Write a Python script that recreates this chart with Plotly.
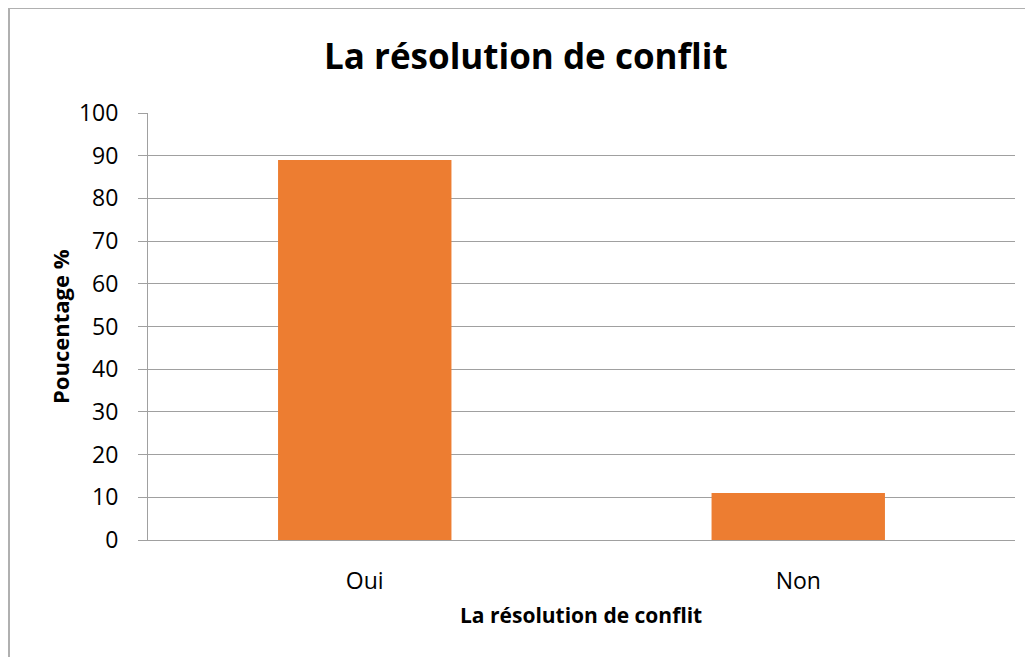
import plotly.graph_objects as go

# Données
categories = ["Oui", "Non"]
pourcentages = [89, 11]
y_ticks = [0, 10, 20, 30, 40, 50, 60, 70, 80, 90, 100]

# la page html a une marge de 8px : coordonnées de la figure = page - 8
W, H = 1025, 649
L, R, T, B = 140, 18, 105, 117
pw, ph = W - L - R, H - T - B

def px_x(x):
    return (x - 8 - L) / pw

def px_y(y):
    return (H - B - (y - 8)) / ph

fig = go.Figure()
fig.add_trace(go.Bar(x=categories, y=pourcentages, marker_color="#ED7D31",
                     marker_line_width=0, width=0.4))

font_family = "Open Sans, Liberation Sans, sans-serif"

fig.update_layout(
    width=W, height=H,
    margin=dict(l=L, r=R, t=T, b=B),
    plot_bgcolor="white", paper_bgcolor="white",
    showlegend=False,
    font=dict(family=font_family, color="black"),
    bargap=0.6,
)

fig.update_yaxes(range=[0, 100], tickvals=y_ticks, showgrid=True, gridcolor="#a0a0a0",
                 gridwidth=1, showline=True, linecolor="#a0a0a0", linewidth=1,
                 ticks="outside", ticklen=9, tickcolor="#a0a0a0", ticklabelstandoff=15,
                 tickfont=dict(size=23), zeroline=False, fixedrange=True)
fig.update_xaxes(showline=True, linecolor="#a0a0a0", linewidth=1, ticks="",
                 ticklabelstandoff=20, tickfont=dict(size=23), fixedrange=True)

# titre
fig.add_annotation(text="<b>La résolution de conflit</b>", xref="paper", yref="paper",
                   x=px_x(526), y=px_y(55), xanchor="center", yanchor="middle",
                   showarrow=False, font=dict(size=35, family=font_family))
# titres des axes
fig.add_annotation(text="<b>La résolution de conflit</b>", xref="paper", yref="paper",
                   x=px_x(581), y=px_y(615), xanchor="center", yanchor="middle",
                   showarrow=False, font=dict(size=21, family=font_family))
fig.add_annotation(text="<b>Poucentage %</b>", xref="paper", yref="paper",
                   x=px_x(60), y=px_y(327), xanchor="center", yanchor="middle",
                   showarrow=False, textangle=-90,
                   font=dict(size=22, family=font_family))

# bordure du graphique
fig.add_shape(type="line", xref="paper", yref="paper", x0=px_x(9), x1=px_x(9),
              y0=px_y(8), y1=px_y(680), line=dict(color="#b0b0b0", width=2))
fig.add_shape(type="line", xref="paper", yref="paper", x0=px_x(9), x1=px_x(1050),
              y0=px_y(8), y1=px_y(8), line=dict(color="#b0b0b0", width=2))

fig.write_html("out.html", config={"displayModeBar": False})
